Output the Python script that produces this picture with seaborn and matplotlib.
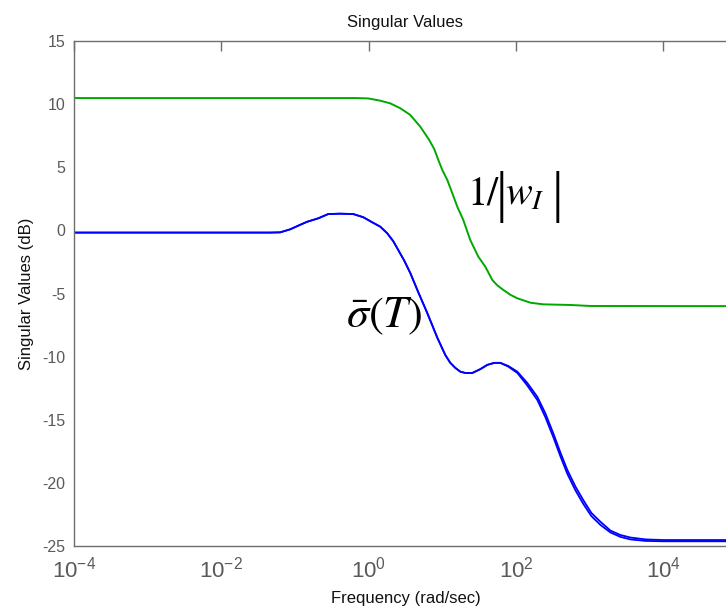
import numpy as np
import pandas as pd
import matplotlib
matplotlib.use("Agg")
import matplotlib.pyplot as plt
from matplotlib.ticker import FixedLocator, FixedFormatter, NullLocator
import seaborn as sns

# Inverse uncertainty weight 1/|w_I| (dB) versus log10 of frequency (rad/sec)
weight_logw = [-4.0, -1.0, -0.182, -0.005, 0.158, 0.293, 0.43, 0.565, 0.701, 0.823,
               0.891, 0.946, 1.0, 1.068, 1.136, 1.204, 1.285, 1.38, 1.489, 1.584,
               1.679, 1.747, 1.829, 1.924, 2.019, 2.196, 2.372, 2.739, 3.011, 5.0]
weight_db = [10.5, 10.5, 10.5, 10.47, 10.29, 10.08, 9.69, 9.16, 8.23, 7.17,
             6.45, 5.59, 4.8, 4.0, 2.95, 1.88, 0.83, -0.76, -2.08, -2.87,
             -3.93, -4.35, -4.72, -5.1, -5.38, -5.73, -5.86, -5.91, -5.99, -6.0]

# Largest singular value of the complementary sensitivity T (two close branches)
sigma_logw = [-4.0, -1.34, -1.201, -1.065, -0.929, -0.834, -0.685, -0.549, -0.386, -0.209,
              -0.073, 0.063, 0.158, 0.253, 0.334, 0.402, 0.484, 0.565, 0.674, 0.796,
              0.932, 1.041, 1.109, 1.177, 1.245, 1.312, 1.408, 1.516, 1.611, 1.707,
              1.788, 1.897, 2.019, 2.155, 2.291, 2.399, 2.508, 2.603, 2.698, 2.807,
              2.916, 3.024, 3.147, 3.283, 3.418, 3.554, 3.758, 4.003, 5.0]
sigma_a_db = [-0.17, -0.17, -0.15, 0.09, 0.45, 0.69, 0.96, 1.3, 1.33, 1.3,
              1.05, 0.6, 0.3, -0.23, -0.85, -1.55, -2.4, -3.37, -4.9, -6.55,
              -8.5, -9.88, -10.5, -10.9, -11.2, -11.3, -11.3, -11.0, -10.66, -10.5,
              -10.5, -10.75, -11.2, -12.1, -13.2, -14.5, -16.1, -17.6, -19.0, -20.3,
              -21.4, -22.4, -23.1, -23.8, -24.15, -24.35, -24.5, -24.55, -24.55]
sigma_b_db = [-0.17, -0.17, -0.15, 0.09, 0.45, 0.69, 0.96, 1.3, 1.33, 1.3,
              1.05, 0.6, 0.3, -0.23, -0.85, -1.55, -2.4, -3.37, -4.9, -6.55,
              -8.5, -9.88, -10.5, -10.9, -11.2, -11.3, -11.3, -11.0, -10.66, -10.5,
              -10.5, -10.8, -11.3, -12.3, -13.45, -14.8, -16.4, -17.9, -19.3, -20.6,
              -21.7, -22.65, -23.35, -23.95, -24.3, -24.5, -24.62, -24.65, -24.65]

x_ticks = [1e-4, 1e-2, 1e0, 1e2, 1e4]
x_ticklabels = [r"$\mathregular{10^{-4}}$", r"$\mathregular{10^{-2}}$",
                r"$\mathregular{10^{0}}$", r"$\mathregular{10^{2}}$",
                r"$\mathregular{10^{4}}$"]
y_ticks = [-25, -20, -15, -10, -5, 0, 5, 10, 15]

weight = pd.DataFrame({"freq": 10.0 ** np.array(weight_logw), "db": weight_db})
sig_a = pd.DataFrame({"freq": 10.0 ** np.array(sigma_logw), "db": sigma_a_db})
sig_b = pd.DataFrame({"freq": 10.0 ** np.array(sigma_logw), "db": sigma_b_db})

sns.set_style("white")
plt.rcParams["font.family"] = ["Liberation Sans", "DejaVu Sans"]

fig = plt.figure(figsize=(7.26, 6.10), dpi=100)
ax = fig.add_axes([0.102, 0.1054, 0.913, 0.8269])

sns.lineplot(data=weight, x="freq", y="db", ax=ax, color="#00a800", linewidth=1.4)
sns.lineplot(data=sig_a, x="freq", y="db", ax=ax, color="#0000ff", linewidth=1.3)
sns.lineplot(data=sig_b, x="freq", y="db", ax=ax, color="#0000ff", linewidth=1.3)

ax.set_xscale("log")
ax.set_xlim(1e-4, 1e5)
ax.set_ylim(-25, 15)
ax.xaxis.set_major_locator(FixedLocator(x_ticks))
ax.xaxis.set_major_formatter(FixedFormatter(x_ticklabels))
ax.xaxis.set_minor_locator(NullLocator())
ax.set_yticks(y_ticks)
ax.set_yticklabels([str(v) for v in y_ticks])

spine_gray = "#6e6e6e"
for s in ax.spines.values():
    s.set_color(spine_gray)
    s.set_linewidth(1.0)
ax.tick_params(axis="both", which="major", direction="in", length=7, width=1.0,
               color=spine_gray, labelcolor="#5a5a5a", labelsize=11.5,
               top=True, right=True)
ax.tick_params(axis="x", pad=8, labelsize=16)
ax.tick_params(axis="y", pad=6)

ax.set_title("Singular Values", fontsize=12, pad=10, color="#111111")
ax.set_xlabel("Frequency (rad/sec)", fontsize=12, labelpad=6, color="#111111")
ax.set_ylabel("Singular Values (dB)", fontsize=12, labelpad=6, color="#111111")

# Curve labels in a serif face: "1/|w_I|" is built from pieces so the
# absolute-value bars can be taller than the letters they enclose.
label_anchor = (25.3, 2.02)
label_kw = dict(xycoords="data", textcoords="offset points", color="black")
ax.annotate(r"$1$", xy=label_anchor, xytext=(-3.7, 0), fontsize=29,
            ha="left", va="baseline", math_fontfamily="stix", **label_kw)
ax.annotate(r"$/$", xy=label_anchor, xytext=(10.3, 0), fontsize=29,
            ha="left", va="baseline", math_fontfamily="stix", **label_kw)
ax.annotate("|", xy=label_anchor, xytext=(20.9, 6.0), fontsize=42,
            family="Liberation Serif", ha="center", va="center", **label_kw)
ax.annotate(r"$w_I$", xy=label_anchor, xytext=(23.8, 0), fontsize=29,
            ha="left", va="baseline", math_fontfamily="stix", **label_kw)
ax.annotate("|", xy=label_anchor, xytext=(61.2, 6.0), fontsize=42,
            family="Liberation Serif", ha="center", va="center", **label_kw)

ax.text(0.497, -7.65, r"$\bar{\sigma}(T)$", fontsize=32,
        math_fontfamily="stix", color="black", va="baseline", ha="left")

fig.savefig("out.png", dpi=100, facecolor="white")
